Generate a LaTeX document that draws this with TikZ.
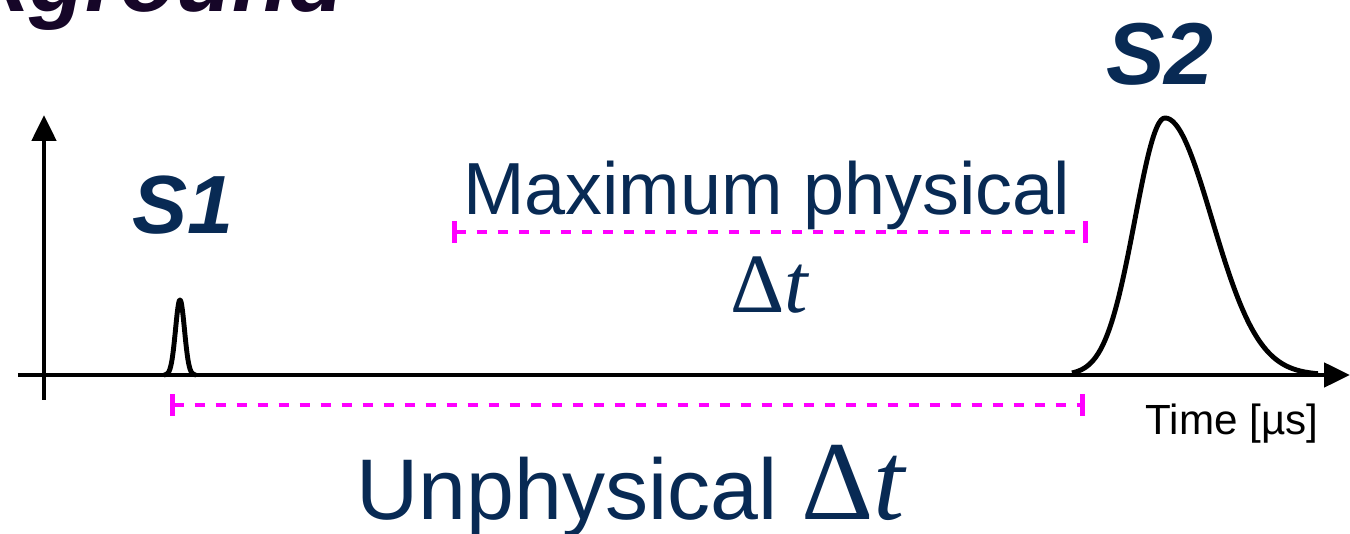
\documentclass[tikz,border=0pt]{standalone}
\usepackage{fontspec}
\setmainfont{Liberation Sans}
\newfontfamily\seriffont{Liberation Serif}
\usetikzlibrary{positioning, arrows.meta}
\definecolor{sigNavy}{RGB}{8,42,84}
\definecolor{titleInk}{RGB}{22,6,40}
\definecolor{dtMagenta}{RGB}{255,0,255}

\begin{document}
\begin{tikzpicture}[
    axis/.style={line width=1.4pt, -{Triangle[length=2.6mm,width=2.4mm]}},
    pulse/.style={line width=1.4pt, line join=round},
    span/.style={dtMagenta, line width=1.4pt, dash pattern=on 1mm off 1.1mm,
                 {Bar[width=2.2mm]}-{Bar[width=2.2mm]}},
    lbl/.style={sigNavy, font=\fontsize{21}{24}\selectfont},
    peak/.style={sigNavy, anchor=base, font=\fontsize{#1}{30}\selectfont\bfseries\itshape},
  ]
  \useasboundingbox (0,0) rectangle (13.5,5.34);
  % title, cut off by the frame
  \begin{scope}
    \clip (0,0) rectangle (13.5,5.34);
    \node[titleInk, anchor=base east, inner sep=0pt,
          font=\fontsize{26}{30}\selectfont\bfseries\itshape] (title) at (3.45,5.22) {Background};
  \end{scope}
  % axes
  \coordinate (yfoot) at (0.44,1.34);
  \coordinate (ytop) at (0.44,4.19);
  \coordinate (xleft) at (0.18,1.59);
  \coordinate (xright) at (13.5,1.59);
  \draw[axis] (yfoot) -- (ytop);
  \draw[axis] (xleft) -- (xright);
  % pulses
  \draw[pulse] plot[domain=1.64:1.96, samples=60, smooth]
        (\x, {1.59+0.75*exp(-(\x-1.80)*(\x-1.80)/0.004)});
  \draw[pulse] plot[domain=10.72:11.65, samples=50, smooth]
        (\x, {1.59+2.57*exp(-(\x-11.65)*(\x-11.65)/0.18)})
        -- plot[domain=11.65:13.18, samples=60, smooth]
        (\x, {1.59+2.57*exp(-(\x-11.65)*(\x-11.65)/0.44)});
  \node[peak=23.5] (s1) at (1.83,3.00) {S1};
  \node[peak=25] (s2) at (11.60,4.49) {S2};
  % time differences
  \coordinate (maxL) at (4.52,3.02);
  \coordinate (maxR) at (10.88,3.02);
  \coordinate (unL) at (1.70,1.29);
  \coordinate (unR) at (10.85,1.29);
  \draw[span] (maxL) -- (maxR);
  \draw[span] (unL) -- (unR);
  \node[lbl, anchor=base] (maxtext) at (7.665,3.19) {Maximum physical};
  \node[lbl, anchor=base, font=\fontsize{24}{28}\seriffont] (maxdt) at (7.70,2.21) {Δ\textit{t}};
  \node[lbl, anchor=base, inner sep=0pt] (unphys) at (6.32,0.14)
        {{\fontsize{24.5}{28}\selectfont Unphysical }{\fontsize{32}{36}\seriffont Δ\textit{t}}};
  \node[anchor=base, font=\fontsize{12}{14}\selectfont] (timelbl) at (12.32,0.99) {Time [µs]};
\end{tikzpicture}
\end{document}
